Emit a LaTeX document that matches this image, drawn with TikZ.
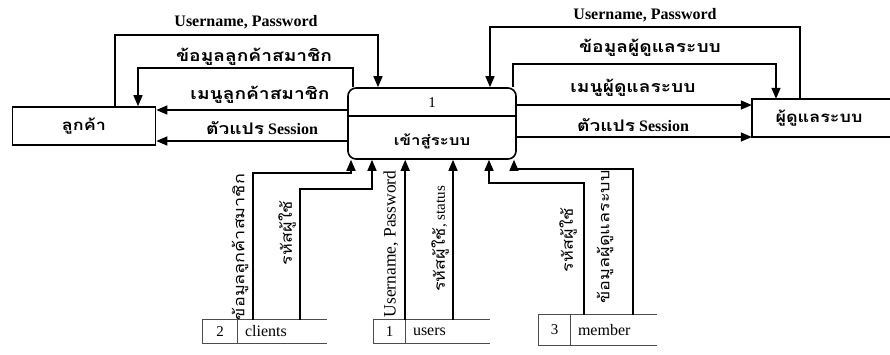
\documentclass[tikz,border=0pt]{standalone}
\usepackage{fontspec}
\setmainfont{Liberation Serif}
\newfontfamily\thaifont[Script=Thai,FakeStretch=1.2]{Loma}
\newcommand{\tf}[1]{{\thaifont #1}}
\usetikzlibrary{arrows.meta}

\begin{document}
\begin{tikzpicture}[x=1pt, y=-1pt,
  flow/.style={line width=1.5pt, -{Triangle[length=11pt,width=9pt]}},
  lbl/.style={inner sep=0pt, font=\fontsize{16}{18}\selectfont\bfseries},
  vlbl/.style={inner sep=0pt, rotate=90, font=\fontsize{15}{17}\selectfont},
  entity/.style={minimum height=38pt, inner sep=0pt,
                 font=\fontsize{15}{17}\selectfont\bfseries},
  edge/.style={line width=1.6pt},
  storeid/.style={minimum width=31pt, minimum height=23pt, inner sep=0pt,
                  font=\fontsize{15}{17}\selectfont},
  storename/.style={minimum height=23pt, inner xsep=8pt, inner ysep=0pt,
                    align=left, font=\fontsize{16}{18}\selectfont},
  storeline/.style={draw=black!70, line width=0.9pt}]
\useasboundingbox (0,0) rectangle (890,354);

% entities and process
\node[entity, draw, edge, minimum width=143pt] (cust) at (84, 126) {\tf{ลูกค้า}};
\node[entity, minimum width=134pt] (admin) at (819, 118) {\tf{ผู้ดูแลระบบ}};
\draw[edge] ([xshift=30pt]admin.north east) -- (admin.north west) -- (admin.south west)
            -- ([xshift=30pt]admin.south east);
\node[draw, edge, rounded corners=8pt, minimum width=168pt,
      minimum height=71pt] (proc) at (432, 123.5) {};
\draw[line width=1.5pt] ([yshift=7.5pt]proc.west) -- ([yshift=7.5pt]proc.east);
\node[lbl, font=\fontsize{15}{17}\selectfont] (pnum) at (432, 103) {1};
\node[lbl, font=\fontsize{14}{16}\selectfont\bfseries] (pname) at (432, 141) {\tf{เข้าสู่ระบบ}};

% data stores
\node[storeid, minimum width=34pt]  (s2)      at (220,   331.5) {2};
\node[storename, text width=74pt]   (clients) at (282,   331.5) {clients};
\node[storeid]                      (s1)      at (389.5, 331.5) {1};
\node[storename, text width=69pt]   (users)   at (447.5, 331.5) {users};
\node[storeid, minimum height=30pt] (s3)      at (554.5, 330)   {3};
\node[storename, text width=71pt, minimum height=30pt] (member) at (613.5, 330) {member};
\draw[storeline] (clients.north east) -- (s2.north west) -- (s2.south west) -- (clients.south east);
\draw[storeline] (s2.north east) -- (s2.south east);
\draw[storeline] (users.north east) -- (s1.north west) -- (s1.south west) -- (users.south east);
\draw[storeline] (s1.north east) -- (s1.south east);
\draw[storeline] (member.north east) -- (s3.north west) -- (s3.south west) -- (member.south east);
\draw[storeline] (s3.north east) -- (s3.south east);

% customer side
\coordinate (a1) at (115, 35);
\coordinate (a2) at (378, 35);
\coordinate (a3) at (353, 68);
\coordinate (a4) at (138, 68);
\draw[flow] (cust.north -| a1) -- (a1) -- (a2) -- (proc.north -| a2);
\draw[flow] (proc.north -| a3) -- (a3) -- (a4) -- (cust.north -| a4);
\draw[flow] (proc.west |- 0,110) -- (cust.east |- 0,110);
\draw[flow] (proc.west |- 0,141) -- (cust.east |- 0,141);
\node[lbl] (l1) at (246,  22) {Username, Password};
\node[lbl] (l2) at (254,  57) {\tf{ข้อมูลลูกค้าสมาชิก}};
\node[lbl] (l3) at (260,  95) {\tf{เมนูลูกค้าสมาชิก}};
\node[lbl] (l4) at (262, 128) {\tf{ตัวแปร} Session};

% admin side
\coordinate (b1) at (800, 27);
\coordinate (b2) at (490, 27);
\coordinate (b3) at (513, 64);
\coordinate (b4) at (776, 64);
\draw[flow] (admin.north -| b1) -- (b1) -- (b2) -- (proc.north -| b2);
\draw[flow] (proc.north -| b3) -- (b3) -- (b4) -- (admin.north -| b4);
\draw[flow] (proc.east |- 0,105) -- (admin.west |- 0,105);
\draw[flow] (proc.east |- 0,137) -- (admin.west |- 0,137);
\node[lbl] (r1) at (645,  15) {Username, Password};
\node[lbl] (r2) at (650,  48) {\tf{ข้อมูลผู้ดูแลระบบ}};
\node[lbl] (r3) at (633,  88) {\tf{เมนูผู้ดูแลระบบ}};
\node[lbl] (r4) at (633, 125) {\tf{ตัวแปร} Session};

% stores to process
\coordinate (d1) at (253, 173);
\coordinate (d2) at (351, 173);
\coordinate (d3) at (300, 189);
\coordinate (d4) at (372, 189);
\coordinate (f1) at (584, 183);
\coordinate (f2) at (489, 183);
\coordinate (f3) at (633, 169);
\coordinate (f4) at (514, 169);
\draw[flow] (clients.north -| d1) -- (d1) -- (d2) -- (proc.south -| d2);
\draw[flow] (clients.north -| d3) -- (d3) -- (d4) -- (proc.south -| d4);
\draw[flow] (s1.north east) -- (s1.north east |- proc.south);
\draw[flow] (users.north -| 453,0) -- (proc.south -| 453,0);
\draw[flow] (member.north -| f1) -- (f1) -- (f2) -- (proc.south -| f2);
\draw[flow] (member.north -| f3) -- (f3) -- (f4) -- (proc.south -| f4);
\node[vlbl] (v1) at (240, 247) {\tf{ข้อมูลลูกค้าสมาชิก}};
\node[vlbl] (v2) at (287, 233) {\tf{รหัสผู้ใช้}};
\node[vlbl, font=\fontsize{17.5}{19}\selectfont] (v3) at (391, 244) {Username, Password};
\node[vlbl] (v4) at (440, 239) {\tf{รหัสผู้ใช้}, status};
\node[vlbl] (v5) at (568, 240) {\tf{รหัสผู้ใช้}};
\node[vlbl] (v6) at (605, 237) {\tf{ข้อมูลผู้ดูแลระบบ}};
\end{tikzpicture}
\end{document}
